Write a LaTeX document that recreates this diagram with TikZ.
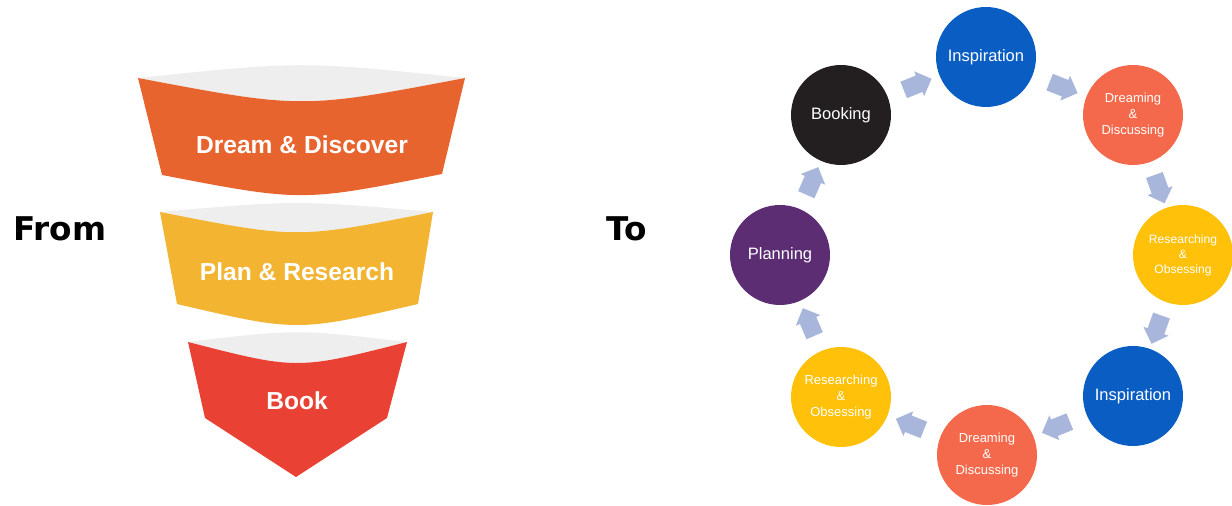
\documentclass[tikz,border=0pt]{standalone}
\usepackage{fontspec}
\setmainfont{Liberation Sans}
\newfontfamily\headfont{DejaVu Sans}
\usepackage{xcolor}
\usetikzlibrary{shapes.arrows}

\definecolor{lensgray}{HTML}{EEEEEE}
\definecolor{discoverorange}{HTML}{E8642F}
\definecolor{planyellow}{HTML}{F2B431}
\definecolor{bookred}{HTML}{E94234}
\definecolor{inspireblue}{HTML}{0A5DC2}
\definecolor{dreamcoral}{HTML}{F4694B}
\definecolor{researchyellow}{HTML}{FFC10A}
\definecolor{planpurple}{HTML}{5C2D73}
\definecolor{bookblack}{HTML}{231F20}
\definecolor{flowblue}{HTML}{A8B6DC}

\tikzstyle{stage} = [circle, minimum size=2cm, inner sep=0pt, text=white, align=center, font=\fontsize{9.4}{11}\selectfont]
\tikzstyle{smallstage} = [stage, font=\fontsize{7.4}{9}\selectfont]
\tikzstyle{flow} = [single arrow, fill=flowblue, inner sep=0.17cm, minimum height=0.6cm, single arrow head extend=0.09cm, sloped, allow upside down]
\tikzstyle{lens} = [fill=lensgray]
\tikzstyle{bandtext} = [text=white, font=\bfseries\fontsize{14}{16}\selectfont]
\tikzstyle{heading} = [font=\headfont\bfseries\fontsize{18.6}{21}\selectfont]

\begin{document}
\begin{tikzpicture}[x=0.02cm, y=-0.02cm]
\path[use as bounding box, fill=white] (0,0) rectangle (1232,506);

% funnel, top to bottom
\fill[lens] (138,78) .. controls (302,61) .. (465,78) .. controls (302,109) .. cycle;
\fill[discoverorange] (138,78) .. controls (302,109) .. (465,78) -- (442,174) .. controls (302,202) .. (162,175) -- cycle;
\fill[lens] (160,212) .. controls (297,200) .. (433,212) .. controls (297,239) .. cycle;
\fill[planyellow] (160,212) .. controls (297,239) .. (433,212) -- (418,304) .. controls (297,332) .. (177,304) -- cycle;
\fill[lens] (188,342) .. controls (297,329) .. (407,342) .. controls (297,370) .. cycle;
\fill[bookred] (188,342) .. controls (297,370) .. (407,342) -- (387,418) -- (296,477) -- (205,418) -- cycle;
\node (discover) [bandtext] at (302,145) {Dream \& Discover};
\node (plan) [bandtext] at (297,272) {Plan \& Research};
\node (book) [bandtext] at (297,401) {Book};

\node (from) [heading] at (60,229) {From};
\node (to) [heading] at (627,229) {To};

% cycle of stages
\node (inspireA) [stage, fill=inspireblue] at (986,57) {Inspiration};
\node (dreamA) [smallstage, fill=dreamcoral] at (1133,115) {Dreaming\\\&\\Discussing};
\node (researchA) [smallstage, fill=researchyellow, font=\fontsize{6.9}{8.6}\selectfont] at (1183,255) {Researching\\\&\\Obsessing};
\node (inspireB) [stage, fill=inspireblue] at (1133,396) {Inspiration};
\node (dreamB) [smallstage, fill=dreamcoral] at (987,455) {Dreaming\\\&\\Discussing};
\node (researchB) [smallstage, fill=researchyellow] at (841,397) {Researching\\\&\\Obsessing};
\node (planning) [stage, fill=planpurple] at (780,255) {Planning};
\node (booking) [stage, fill=bookblack] at (841,115) {Booking};

\path (booking) -- node[flow] {} (inspireA);
\path (inspireA) -- node[flow] {} (dreamA);
\path (dreamA) -- node[flow] {} (researchA);
\path (researchA) -- node[flow] {} (inspireB);
\path (inspireB) -- node[flow] {} (dreamB);
\path (dreamB) -- node[flow] {} (researchB);
\path (researchB) -- node[flow] {} (planning);
\path (planning) -- node[flow] {} (booking);
\end{tikzpicture}
\end{document}
